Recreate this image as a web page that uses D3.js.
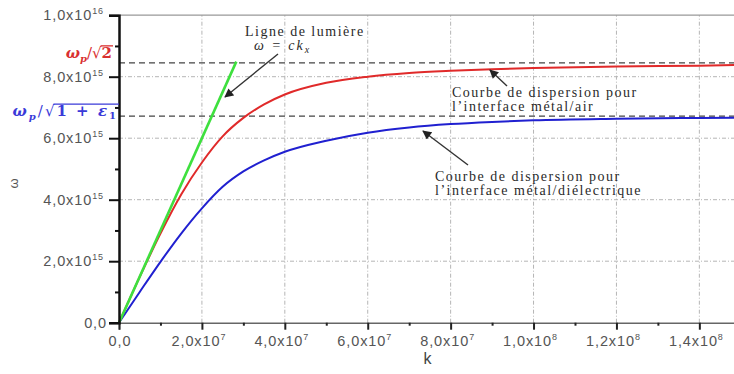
<!DOCTYPE html>
<html lang="en">
<head>
    <meta charset="UTF-8">
    <title>Courbes de dispersion</title>
    <script src="https://d3js.org/d3.v7.min.js"></script>
</head>
<style>
    body { margin: 0; background: #fff; }
    svg { display: block; }
    .tick-label { font-family: "Liberation Sans", Arial, sans-serif; font-size: 14.5px; fill: #555; letter-spacing: 0.9px; }
    .note { font-family: "Liberation Serif", "DejaVu Serif", serif; font-size: 14px; fill: #2a2a2a; letter-spacing: 1.5px; }
</style>
<body>
<div id="chart"></div>
<script>
  // k in units of 1e7 m^-1, omega in units of 1e15 rad/s
  var kRed   = [0, 0.5, 1.0, 1.5, 2.0, 2.5, 3.0, 3.5, 4.0, 5.0, 6.0, 7.0, 8.0, 9.0, 10, 12, 14, 15];
  var wRed   = [0, 1.49, 2.9, 4.17, 5.21, 6.06, 6.66, 7.1, 7.42, 7.8, 8.0, 8.12, 8.19, 8.24, 8.28, 8.33, 8.36, 8.38];
  var kBlue  = [0, 0.5, 1.0, 1.5, 2.0, 2.5, 3.0, 3.5, 4.0, 5.0, 6.0, 7.0, 8.0, 9.0, 10, 12, 14, 15];
  var wBlue  = [0, 1.0, 1.98, 2.9, 3.72, 4.42, 4.92, 5.28, 5.56, 5.92, 6.18, 6.35, 6.46, 6.53, 6.58, 6.63, 6.66, 6.67];
  var kLight = [0, 2.83];
  var wLight = [0, 8.49];

  // asymptotes: wp/sqrt(2) and wp/sqrt(1+eps1)
  var asymptotes = [8.45, 6.72];

  var xMajor = [0, 2, 4, 6, 8, 10, 12, 14];
  var xMinor = [1, 3, 5, 7, 9, 11, 13];
  var xTickLabels = [["0,0", ""], ["2,0x10", "7"], ["4,0x10", "7"], ["6,0x10", "7"], ["8,0x10", "7"],
                     ["1,0x10", "8"], ["1,2x10", "8"], ["1,4x10", "8"]];
  var yMajor = [0, 2, 4, 6, 8, 10];
  var yMinor = [1, 3, 5, 7, 9];
  var yTickLabels = [["0,0", ""], ["2,0x10", "15"], ["4,0x10", "15"], ["6,0x10", "15"], ["8,0x10", "15"], ["1,0x10", "16"]];

  var width = 734, height = 374;
  var svg = d3.select('#chart').append('svg')
    .attr('width', width).attr('height', height);

  var x = d3.scaleLinear().domain([0, 15]).range([119, 740.8]);
  var y = d3.scaleLinear().domain([0, 10]).range([322.7, 15.2]);

  /** grid */
  svg.append('g').selectAll('line')
    .data(xMajor.slice(1)).enter().append('line')
    .attr('x1', function (d) { return x(d); }).attr('x2', function (d) { return x(d); })
    .attr('y1', y(0)).attr('y2', y(10))
    .attr('stroke', '#b5b5b5').attr('stroke-width', 1).attr('stroke-dasharray', '4,2,1,2');
  svg.append('g').selectAll('line')
    .data(yMajor.slice(1, -1)).enter().append('line')
    .attr('y1', function (d) { return y(d); }).attr('y2', function (d) { return y(d); })
    .attr('x1', x(0)).attr('x2', width)
    .attr('stroke', '#b5b5b5').attr('stroke-width', 1).attr('stroke-dasharray', '4,2,1,2');
  // top frame
  svg.append('line')
    .attr('x1', x(0)).attr('x2', width).attr('y1', y(10)).attr('y2', y(10))
    .attr('stroke', '#999').attr('stroke-width', 1.2);

  /** asymptote dashes */
  svg.append('g').selectAll('line')
    .data(asymptotes).enter().append('line')
    .attr('y1', function (d) { return y(d); }).attr('y2', function (d) { return y(d); })
    .attr('x1', x(0)).attr('x2', width)
    .attr('stroke', '#444').attr('stroke-width', 1.3).attr('stroke-dasharray', '6,4');

  /** curves */
  var line = d3.line()
    .x(function (d) { return x(d[0]); })
    .y(function (d) { return y(d[1]); })
    .curve(d3.curveMonotoneX);

  function drawCurve(ks, ws, color, w) {
    svg.append('path')
      .datum(d3.zip(ks, ws))
      .attr('d', line)
      .attr('fill', 'none')
      .attr('stroke', color)
      .attr('stroke-width', w);
  }
  drawCurve(kBlue, wBlue, '#2020d0', 2);
  drawCurve(kRed, wRed, '#e02a2a', 2);
  drawCurve(kLight, wLight, '#3ee03e', 2.6);

  /** axes */
  var xAxis = svg.append('g').attr('transform', 'translate(0,' + y(0) + ')');
  xAxis.call(d3.axisBottom(x).tickValues(xMajor).tickSize(7).tickFormat(''));
  xAxis.select('.domain').attr('stroke', '#666').attr('stroke-width', 1.5);
  xAxis.selectAll('.tick line').attr('stroke', '#222').attr('stroke-width', 2);
  xAxis.append('g').call(d3.axisBottom(x).tickValues(xMinor).tickSize(3).tickFormat(''))
    .call(function (g) { g.select('.domain').remove(); })
    .selectAll('.tick line').attr('stroke', '#222').attr('stroke-width', 2);

  var yAxis = svg.append('g').attr('transform', 'translate(' + x(0) + ',0)');
  yAxis.call(d3.axisLeft(y).tickValues(yMajor).tickSize(10).tickFormat(''));
  yAxis.select('.domain').attr('stroke', '#111').attr('stroke-width', 2.5);
  yAxis.selectAll('.tick line').attr('stroke', '#111').attr('stroke-width', 2);
  yAxis.append('g').call(d3.axisLeft(y).tickValues(yMinor).tickSize(4).tickFormat(''))
    .call(function (g) { g.select('.domain').remove(); })
    .selectAll('.tick line').attr('stroke', '#111').attr('stroke-width', 2);

  /** tick labels with superscript exponents */
  function supLabel(sel) {
    sel.append('tspan').text(function (d) { return d[0]; });
    sel.append('tspan').attr('dy', -6).attr('font-size', 9).text(function (d) { return d[1]; });
  }
  svg.append('g').selectAll('text')
    .data(xTickLabels).enter().append('text')
    .classed('tick-label', true)
    .attr('x', function (d, i) { return x(xMajor[i]) + (i === 0 ? 1 : -3); })
    .attr('y', 346)
    .attr('text-anchor', 'middle')
    .call(supLabel);
  svg.append('g').selectAll('text')
    .data(yTickLabels).enter().append('text')
    .classed('tick-label', true)
    .attr('x', function (d, i) { return i === 0 ? 107 : 104; })
    .attr('y', function (d, i) { return y(yMajor[i]) + 5; })
    .attr('text-anchor', 'end')
    .call(supLabel);

  /** axis titles */
  svg.append('text').attr('class', 'tick-label').attr('x', 428).attr('y', 364)
    .attr('text-anchor', 'middle').style('font-size', '16px').style('fill', '#444').text('k');
  svg.append('text').attr('class', 'tick-label')
    .attr('transform', 'translate(18,183) rotate(-90)')
    .attr('text-anchor', 'middle').style('font-size', '13px').text('ω');

  /** asymptote labels: "ωp / √(radicand)" with an overbar over the radicand */
  function rootLabel(xEnd, yBase, color, radicand, spacing) {
    var t = svg.append('text')
      .attr('x', xEnd).attr('y', yBase)
      .attr('text-anchor', 'end')
      .style('font-family', '"DejaVu Serif", serif').style('font-size', '15px')
      .style('letter-spacing', spacing + 'px')
      .style('font-weight', 'bold').style('font-style', 'italic').style('fill', color);
    t.append('tspan').text('ω');
    t.append('tspan').attr('dy', 4).style('font-size', '10px').text('p');
    t.append('tspan').attr('dy', -4).style('font-style', 'normal').style('font-weight', 'normal').text('/√');
    var nBefore = 4;
    radicand.forEach(function (part) {
      t.append('tspan').attr('dy', part[1]).style('font-size', part[2])
        .style('font-style', part[3]).text(part[0]);
    });
    var node = t.node();
    var n = node.getNumberOfChars();
    var b = node.getExtentOfChar(n - 1);
    var r = node.getExtentOfChar(nBefore - 1);
    svg.append('line')
      .attr('x1', r.x + r.width - 1 - spacing).attr('x2', b.x + b.width + 1)
      .attr('y1', r.y + 2).attr('y2', r.y + 2)
      .attr('stroke', color).attr('stroke-width', 1.3);
  }
  rootLabel(112, y(asymptotes[0]) - 5, '#d93030', [['2', 0, '15px', 'normal']], 0);
  rootLabel(118, y(asymptotes[1]) + 0, '#3a3ad8',
    [['1 + ', 0, '15px', 'normal'], ['ε', 0, '15px', 'italic'], ['1', 3, '10px', 'normal']], 2);

  /** notes and arrows */
  svg.append('defs').append('marker')
    .attr('id', 'head').attr('viewBox', '0 0 10 10')
    .attr('refX', 9).attr('refY', 5)
    .attr('markerWidth', 10).attr('markerHeight', 9)
    .attr('markerUnits', 'userSpaceOnUse')
    .attr('orient', 'auto')
    .append('path').attr('d', 'M0,0 L10,5 L0,10 z').attr('fill', '#222');

  function note(lines, tx, ty, lineH) {
    var t = svg.append('text').attr('class', 'note');
    lines.forEach(function (s, i) {
      t.append('tspan').attr('x', tx).attr('y', ty + i * lineH).text(s);
    });
  }
  function arrow(x1, y1, x2, y2) {
    svg.append('line')
      .attr('x1', x1).attr('y1', y1).attr('x2', x2).attr('y2', y2)
      .attr('stroke', '#333').attr('stroke-width', 1.4)
      .attr('marker-end', 'url(#head)');
  }

  note(['Ligne de lumière'], 245, 36, 14);
  var lum = svg.append('text').attr('class', 'note').attr('x', 254).attr('y', 50)
    .style('font-style', 'italic').style('letter-spacing', '2px');
  lum.append('tspan').text('ω = ck');
  lum.append('tspan').attr('dy', 3).style('font-size', '10px').text('x');
  arrow(278, 54, 225, 97);

  note(['Courbe de dispersion pour', 'l\u2019interface métal/air'], 452, 97, 14);
  arrow(507, 86, 490, 70);

  note(['Courbe de dispersion pour', 'l\u2019interface métal/diélectrique'], 435, 181, 14);
  arrow(468, 165, 423, 131);
</script>
</body>
</html>
